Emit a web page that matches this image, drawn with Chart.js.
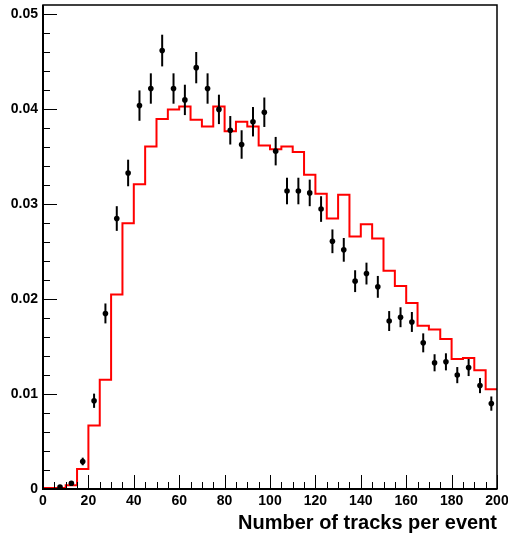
<!DOCTYPE html>
<html>
<head>
<meta charset="utf-8">
<script src="https://cdn.jsdelivr.net/npm/chart.js@4.4.1/dist/chart.umd.min.js"></script>
<style>
    html, body { margin: 0; padding: 0; background: #fff; }
    canvas { display: block; }
</style>
</head>
<body>
<canvas id="tracksChart" width="508" height="535"></canvas>
<script>
// === DATA ===
// measured points (bin centres, normalised entries, errors)
const dataCenters = [7.5, 12.5, 17.5, 22.5, 27.5, 32.5, 37.5, 42.5, 47.5, 52.5,
    57.5, 62.5, 67.5, 72.5, 77.5, 82.5, 87.5, 92.5, 97.5, 102.5,
    107.5, 112.5, 117.5, 122.5, 127.5, 132.5, 137.5, 142.5, 147.5, 152.5,
    157.5, 162.5, 167.5, 172.5, 177.5, 182.5, 187.5, 192.5, 197.5];
const dataValues = [0.0002, 0.0006, 0.0029, 0.0093, 0.0185, 0.0285, 0.0333, 0.0404, 0.0422, 0.0462,
    0.0422, 0.0410, 0.0444, 0.0422, 0.0400, 0.0378, 0.0363, 0.0387, 0.0397, 0.0356,
    0.0314, 0.0314, 0.0312, 0.0295, 0.0261, 0.0252, 0.0219, 0.0227, 0.0213, 0.0177,
    0.0181, 0.0176, 0.0154, 0.0133, 0.0134, 0.0120, 0.0128, 0.0109, 0.0090];
const dataErrors = [0.0001, 0.0002, 0.0004, 0.00075, 0.00105, 0.0013, 0.0014, 0.0016, 0.0016, 0.00167,
    0.0016, 0.0016, 0.00165, 0.0016, 0.00155, 0.0015, 0.0015, 0.00155, 0.00155, 0.0015,
    0.0014, 0.0014, 0.0014, 0.00135, 0.00125, 0.00125, 0.00115, 0.00115, 0.00115, 0.00105,
    0.00105, 0.00105, 0.001, 0.0009, 0.0009, 0.00085, 0.0009, 0.0008, 0.00075];

// simulation histogram (lower bin edges, contents), last edge closes the histogram
const mcEdges = [0, 5, 10, 15, 20, 25, 30, 35, 40, 45,
    50, 55, 60, 65, 70, 75, 80, 85, 90, 95,
    100, 105, 110, 115, 120, 125, 130, 135, 140, 145,
    150, 155, 160, 165, 170, 175, 180, 185, 190, 195, 200];
const mcValues = [0.0001, 0.0001, 0.0004, 0.0021, 0.0067, 0.0115, 0.0205, 0.0280, 0.0321, 0.0361,
    0.0390, 0.0400, 0.0403, 0.0389, 0.0382, 0.0403, 0.0377, 0.0387, 0.0382, 0.0362,
    0.0358, 0.0361, 0.0355, 0.0331, 0.0311, 0.0285, 0.0310, 0.0266, 0.0279, 0.0264,
    0.0230, 0.0214, 0.0196, 0.0172, 0.0168, 0.0158, 0.0137, 0.0138, 0.0125, 0.0105];

const xTickValues = [0, 20, 40, 60, 80, 100, 120, 140, 160, 180, 200];
const yTickValues = [0, 0.01, 0.02, 0.03, 0.04, 0.05];
const yTickLabels = ['0', '0.01', '0.02', '0.03', '0.04', '0.05'];

const X_MIN = 0, X_MAX = 200, Y_MIN = 0, Y_MAX = 0.051;
const FONT = 'Liberation Sans, Arial, Helvetica, sans-serif';

// === BUILD DATASETS ===
const pointData = dataCenters.map((x, i) => ({ x: x, y: dataValues[i] }));
const histData = mcEdges.map((x, i) => ({
    x: x,
    y: i < mcValues.length ? mcValues[i] : mcValues[mcValues.length - 1]
}));

// no extra room for labels hanging over the frame ends
function noOverhang(s) {
    s.paddingLeft = 0;
    s.paddingRight = 0;
    s.paddingTop = 0;
    s.paddingBottom = 0;
}

// ROOT style frame, inner ticks and error bars
const rootFrame = {
    id: 'rootFrame',
    afterDatasetsDraw(chart) {
        const ctx = chart.ctx;
        const xs = chart.scales.x, ys = chart.scales.y;
        const a = chart.chartArea;

        // error bars
        ctx.save();
        ctx.strokeStyle = '#000';
        ctx.lineWidth = 2;
        dataCenters.forEach((x, i) => {
            const px = xs.getPixelForValue(x);
            ctx.beginPath();
            ctx.moveTo(px, ys.getPixelForValue(dataValues[i] - dataErrors[i]));
            ctx.lineTo(px, ys.getPixelForValue(dataValues[i] + dataErrors[i]));
            ctx.stroke();
        });
        ctx.restore();

        ctx.save();
        ctx.strokeStyle = '#000';
        ctx.lineWidth = 1;
        // x ticks: major every 20, minor every 5
        for (let i = 0; i < xTickValues.length; i++) {
            const v = xTickValues[i];
            const px = Math.round(xs.getPixelForValue(v)) + 0.5;
            ctx.beginPath();
            ctx.moveTo(px, a.bottom);
            ctx.lineTo(px, a.bottom - 14);
            ctx.stroke();
            if (i < xTickValues.length - 1) {
                const step = (xTickValues[i + 1] - v) / 4;
                for (let k = 1; k < 4; k++) {
                    const mx = Math.round(xs.getPixelForValue(v + k * step)) + 0.5;
                    ctx.beginPath();
                    ctx.moveTo(mx, a.bottom);
                    ctx.lineTo(mx, a.bottom - 7);
                    ctx.stroke();
                }
            }
        }
        // y ticks: major every 0.01, minor every 0.002
        for (let i = 0; i < yTickValues.length; i++) {
            const v = yTickValues[i];
            const py = Math.round(ys.getPixelForValue(v)) + 0.5;
            ctx.beginPath();
            ctx.moveTo(a.left, py);
            ctx.lineTo(a.left + 14, py);
            ctx.stroke();
            if (i < yTickValues.length - 1) {
                const step = (yTickValues[i + 1] - v) / 5;
                for (let k = 1; k < 5; k++) {
                    const my = Math.round(ys.getPixelForValue(v + k * step)) + 0.5;
                    ctx.beginPath();
                    ctx.moveTo(a.left, my);
                    ctx.lineTo(a.left + 7, my);
                    ctx.stroke();
                }
            }
        }
        // frame
        ctx.lineWidth = 1.5;
        ctx.strokeRect(a.left, a.top, a.right - a.left, a.bottom - a.top);
        ctx.lineWidth = 2;
        ctx.beginPath();
        ctx.moveTo(a.left, a.top);
        ctx.lineTo(a.left, a.bottom);
        ctx.lineTo(a.right, a.bottom);
        ctx.stroke();
        ctx.restore();
    }
};

new Chart(document.getElementById('tracksChart'), {
    type: 'scatter',
    data: {
        datasets: [
            {
                label: 'Data',
                data: pointData,
                backgroundColor: '#000',
                borderWidth: 0,
                pointRadius: 2.8,
                pointHoverRadius: 2.8
            },
            {
                type: 'line',
                label: 'Simulation',
                data: histData,
                stepped: 'before',
                borderColor: '#ff0000',
                borderWidth: 2,
                pointRadius: 0,
                fill: false,
                tension: 0
            }
        ]
    },
    options: {
        responsive: false,
        animation: false,
        devicePixelRatio: 1,
        layout: { padding: { top: 5, right: 11, left: 0, bottom: 0 } },
        plugins: {
            legend: { display: false },
            tooltip: { enabled: false }
        },
        scales: {
            x: {
                type: 'linear',
                min: X_MIN,
                max: X_MAX,
                grid: { display: false, drawTicks: false },
                border: { display: false },
                afterBuildTicks: s => { s.ticks = xTickValues.map(v => ({ value: v })); },
                afterFit: s => { s.height = 46; noOverhang(s); },
                ticks: {
                    color: '#000',
                    padding: 4,
                    maxRotation: 0,
                    autoSkip: false,
                    font: { family: FONT, size: 14, weight: 'bold' },
                    callback: v => String(v)
                },
                title: {
                    display: true,
                    text: 'Number of tracks per event',
                    align: 'end',
                    color: '#000',
                    padding: { top: 0, bottom: 0 },
                    font: { family: FONT, size: 20, weight: 'bold' }
                }
            },
            y: {
                type: 'linear',
                min: Y_MIN,
                max: Y_MAX,
                grid: { display: false, drawTicks: false },
                border: { display: false },
                afterBuildTicks: s => { s.ticks = yTickValues.map(v => ({ value: v })); },
                afterFit: s => { s.width = 43; noOverhang(s); },
                ticks: {
                    color: '#000',
                    padding: 5,
                    autoSkip: false,
                    font: { family: FONT, size: 14, weight: 'bold' },
                    callback: v => yTickLabels[yTickValues.indexOf(v)] ?? ''
                }
            }
        }
    },
    plugins: [rootFrame]
});
</script>
</body>
</html>
